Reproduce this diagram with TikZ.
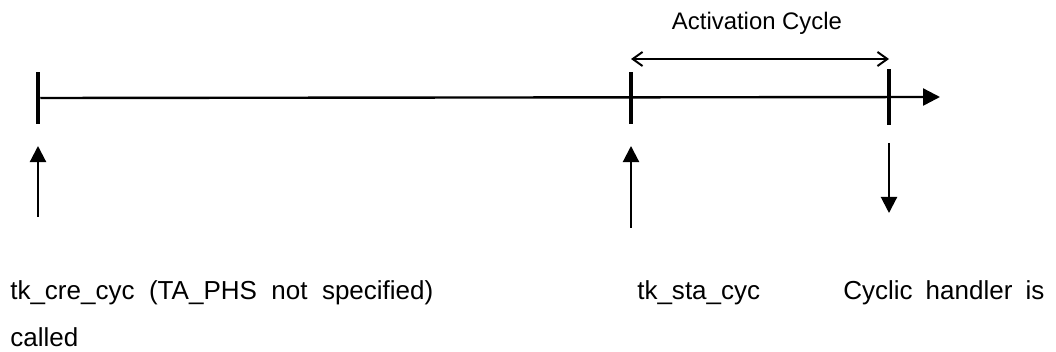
\documentclass[tikz,border=0pt]{standalone}
\usepackage{fontspec}
\setmainfont{Liberation Sans}
\usetikzlibrary{arrows.meta}
\begin{document}
\begin{tikzpicture}[
	x=0.025cm, y=-0.025cm,
	tick/.style={ fill, inner sep=0pt, minimum width=2.8pt, minimum height=37pt },
	axis/.style={ line width=1.7pt, -{Triangle[length=12pt,width=12pt]} },
	event/.style={ line width=1.5pt, -{Triangle[length=11.5pt,width=11.5pt]} },
	span/.style={ line width=1.4pt, {Straight Barb[length=7pt,width=10pt]}-{Straight Barb[length=7pt,width=10pt]} },
	lbl/.style={ inner sep=0pt, anchor=base west, font=\fontsize{18.5}{22}\selectfont }
]
\useasboundingbox (0,0) rectangle (1056,352);

\foreach \n/\x in {cre/38,sta/631} \node at (\x,98) (\n) [tick] {};
\node at (889,97) (call) [tick,minimum height=40pt] {};
\coordinate (axisend) at (940,97);
\draw[axis] (cre) -- (axisend);

\foreach \n/\x/\a/\b in {cre/38/217/146,sta/631/228/146,call/889/143/213} {
	\coordinate (\n from) at (\x,\a);
	\coordinate (\n to) at (\x,\b);
	\draw[event] (\n from) -- (\n to);
}

\coordinate (spanL) at (631,59);
\coordinate (spanR) at (889,59);
\draw[span] (spanL) -- (spanR);
\node at (757,30) (cyclelbl) [lbl,anchor=base,font=\fontsize{17}{20}\selectfont] {Activation Cycle};

\node at (10,300) (crelbl) [lbl] {\makebox[10.575cm][s]{tk\_cre\_cyc (TA\_PHS not specified)}};
\node at (637,300) (stalbl) [lbl] {tk\_sta\_cyc};
\node at (843,300) (calllbl) [lbl] {\makebox[5.025cm][s]{Cyclic handler is}};
\node at (10,347) (calllbl2) [lbl] {called};

\end{tikzpicture}
\end{document}
